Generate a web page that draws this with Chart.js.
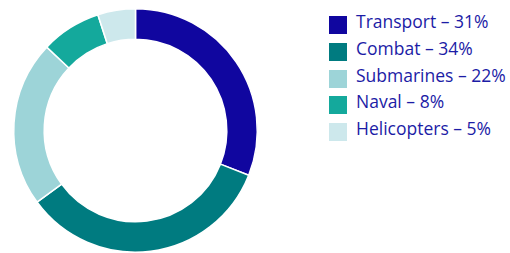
<!DOCTYPE html>
<html>
<head>
<meta charset="utf-8">
<script src="https://cdn.jsdelivr.net/npm/chart.js@4"></script>
<style>
  html, body { margin: 0; padding: 0; background: #fff; }
  #wrap { position: relative; width: 510px; height: 253px; }
  #chartBox { position: absolute; left: 0; top: 0; width: 271px; height: 253px; }
  #legend { position: absolute; left: 329px; top: 12px; margin: 0; padding: 0; list-style: none;
            font-family: "Open Sans", Lato, sans-serif; font-size: 17.5px; color: #1c1ca6; }
  #legend li { display: flex; align-items: center; height: 26.7px; }
  #legend .box { width: 18px; height: 18px; margin-right: 9px; flex: none; }
  #legend li span.txt { position: relative; top: -4px; }
</style>
</head>
<body>
<div id="wrap">
  <div id="chartBox"><canvas id="donutChart"></canvas></div>
  <ul id="legend"></ul>
</div>
<script>
(function() {
    'use strict';

    // Chart data
    const categories = ['Transport', 'Combat', 'Submarines', 'Naval', 'Helicopters'];
    const shares = [31, 34, 22, 8, 5];
    const colors = ['#10069f', '#007b80', '#9dd4d8', '#14a99c', '#cde8ec'];

    /**
     * Build the legend list on the right
     */
    function buildLegend() {
        const list = document.getElementById('legend');
        categories.forEach(function(name, i) {
            const li = document.createElement('li');
            const box = document.createElement('span');
            box.className = 'box';
            box.style.background = colors[i];
            const txt = document.createElement('span');
            txt.className = 'txt';
            txt.textContent = name + ' \u2013 ' + shares[i] + '%';
            li.appendChild(box);
            li.appendChild(txt);
            list.appendChild(li);
        });
    }

    buildLegend();

    new Chart(document.getElementById('donutChart'), {
        type: 'doughnut',
        data: {
            labels: categories,
            datasets: [{
                data: shares,
                backgroundColor: colors,
                borderColor: '#ffffff',
                borderWidth: 1.5
            }]
        },
        options: {
            responsive: true,
            maintainAspectRatio: false,
            animation: false,
            cutout: '75%',
            layout: {
                padding: { top: 8, bottom: 0, left: 0, right: 0 }
            },
            plugins: {
                legend: { display: false },
                tooltip: { enabled: false }
            }
        }
    });
})();
</script>
</body>
</html>
